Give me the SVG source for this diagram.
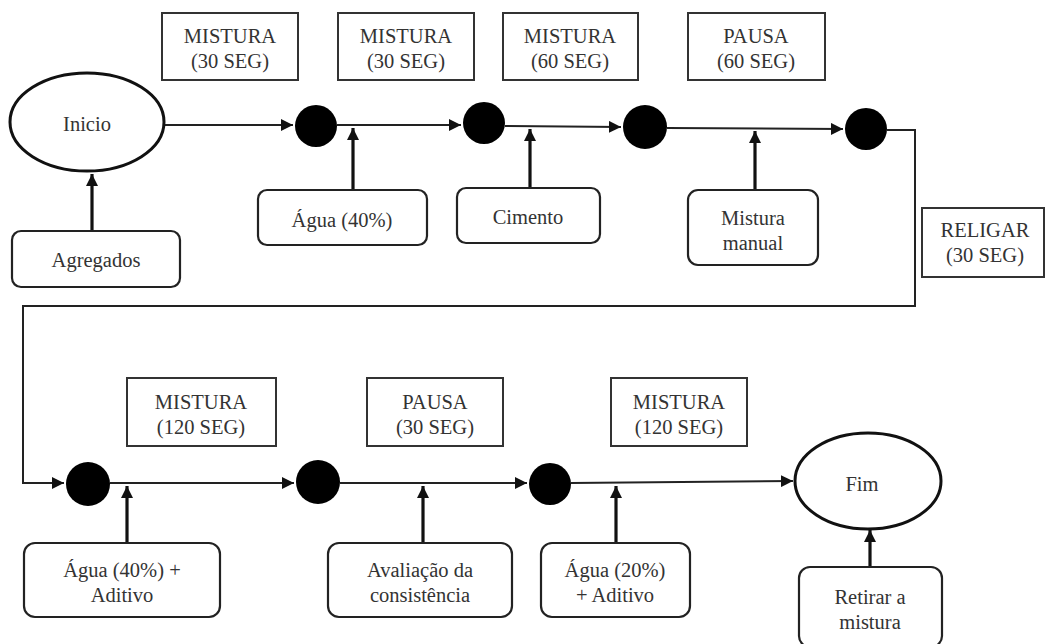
<svg xmlns="http://www.w3.org/2000/svg" width="1046" height="644" viewBox="0 0 1046 644">
<style>
text{font-family:'Liberation Serif','DejaVu Serif',serif;font-size:20.5px;fill:#333;text-anchor:middle}
.lbl{fill:#fff;stroke:#333;stroke-width:2}
.in{fill:#fff;stroke:#222;stroke-width:2.2}
.end{fill:#fff;stroke:#111;stroke-width:3}
.dot{fill:#000}
.ln{fill:none;stroke:#222;stroke-width:2}
.up{fill:none;stroke:#111;stroke-width:3.2}
</style>
<defs>
<marker id="ah" markerUnits="userSpaceOnUse" markerWidth="14" markerHeight="12" refX="12" refY="6" orient="auto"><path d="M0,0 L12,6 L0,12 Z" fill="#111"/></marker>
</defs>
<rect width="1046" height="644" fill="#fff"/>
<g id="connectors">
<path class="ln" d="M165,125 L293,125" marker-end="url(#ah)"/>
<path class="ln" d="M337,125 L461,125" marker-end="url(#ah)"/>
<path class="ln" d="M505,126 L621,127" marker-end="url(#ah)"/>
<path class="ln" d="M667,128 L843,129" marker-end="url(#ah)"/>
<path class="ln" d="M887,130 L915,130 L915,306 L23,306 L23,483 L64,483" marker-end="url(#ah)"/>
<path class="ln" d="M110,483 L294,483" marker-end="url(#ah)"/>
<path class="ln" d="M340,483 L527,483" marker-end="url(#ah)"/>
<path class="ln" d="M571,483 L793,481" marker-end="url(#ah)"/>
<path class="up" d="M92,231 L92,174" marker-end="url(#ah)"/>
<path class="up" d="M353,190 L353,128" marker-end="url(#ah)"/>
<path class="up" d="M530,188 L530,129" marker-end="url(#ah)"/>
<path class="up" d="M755,190 L755,131" marker-end="url(#ah)"/>
<path class="up" d="M127,543 L127,486" marker-end="url(#ah)"/>
<path class="up" d="M423,543 L423,486" marker-end="url(#ah)"/>
<path class="up" d="M616,543 L616,486" marker-end="url(#ah)"/>
<path class="up" d="M870,567 L870,530" marker-end="url(#ah)"/>
</g>
<g font-family="Liberation Serif, DejaVu Serif, serif">
<g id="inicio"><ellipse class="end" cx="87" cy="122" rx="77" ry="49"/><text x="87" y="131">Inicio</text></g>
<g id="agregados"><rect class="in" x="12" y="231" width="168" height="56" rx="9"/><text x="96" y="267">Agregados</text></g>
<g id="lbl-mistura30a"><rect class="lbl" x="162" y="13" width="136" height="67"/><text x="230" y="43">MISTURA</text><text x="230" y="68">(30 SEG)</text></g>
<g id="lbl-mistura30b"><rect class="lbl" x="338" y="13" width="136" height="67"/><text x="406" y="43">MISTURA</text><text x="406" y="68">(30 SEG)</text></g>
<g id="lbl-mistura60"><rect class="lbl" x="503" y="13" width="135" height="67"/><text x="570" y="43">MISTURA</text><text x="570" y="68">(60 SEG)</text></g>
<g id="lbl-pausa60"><rect class="lbl" x="688" y="13" width="137" height="67"/><text x="756" y="43">PAUSA</text><text x="756" y="68">(60 SEG)</text></g>
<g id="lbl-religar"><rect class="lbl" x="922" y="208" width="122" height="69"/><text x="985" y="237">RELIGAR</text><text x="985" y="262">(30 SEG)</text></g>
<g id="n1"><circle class="dot" cx="316" cy="126" r="21"/></g>
<g id="n2"><circle class="dot" cx="484" cy="123" r="21"/></g>
<g id="n3"><circle class="dot" cx="645" cy="127" r="22"/></g>
<g id="n4"><circle class="dot" cx="866" cy="129" r="21"/></g>
<g id="agua40"><rect class="in" x="258" y="190" width="169" height="55" rx="9"/><text x="342" y="227">Água (40%)</text></g>
<g id="cimento"><rect class="in" x="457" y="188" width="143" height="55" rx="9"/><text x="528" y="224">Cimento</text></g>
<g id="mistura-manual"><rect class="in" x="688" y="190" width="130" height="75" rx="10"/><text x="753" y="225">Mistura</text><text x="753" y="250">manual</text></g>
<g id="n5"><circle class="dot" cx="88" cy="484" r="22"/></g>
<g id="n6"><circle class="dot" cx="318" cy="482" r="22"/></g>
<g id="n7"><circle class="dot" cx="550" cy="484" r="21"/></g>
<g id="lbl-mistura120a"><rect class="lbl" x="127" y="378" width="149" height="68"/><text x="201" y="409">MISTURA</text><text x="201" y="434">(120 SEG)</text></g>
<g id="lbl-pausa30"><rect class="lbl" x="367" y="378" width="136" height="68"/><text x="435" y="409">PAUSA</text><text x="435" y="434">(30 SEG)</text></g>
<g id="lbl-mistura120b"><rect class="lbl" x="611" y="378" width="136" height="68"/><text x="679" y="409">MISTURA</text><text x="679" y="434">(120 SEG)</text></g>
<g id="agua40-aditivo"><rect class="in" x="24" y="543" width="196" height="74" rx="11"/><text x="122" y="577">Água (40%) +</text><text x="122" y="602">Aditivo</text></g>
<g id="avaliacao"><rect class="in" x="328" y="543" width="184" height="74" rx="11"/><text x="420" y="577">Avaliação da</text><text x="420" y="602">consistência</text></g>
<g id="agua20-aditivo"><rect class="in" x="541" y="543" width="149" height="74" rx="11"/><text x="615" y="577">Água (20%)</text><text x="615" y="602">+ Aditivo</text></g>
<g id="fim"><ellipse class="end" cx="868" cy="481" rx="73" ry="48"/><text x="862" y="491">Fim</text></g>
<g id="retirar"><rect class="in" x="799" y="567" width="143" height="80" rx="11"/><text x="870" y="604">Retirar a</text><text x="870" y="629">mistura</text></g>
</g>
</svg>
